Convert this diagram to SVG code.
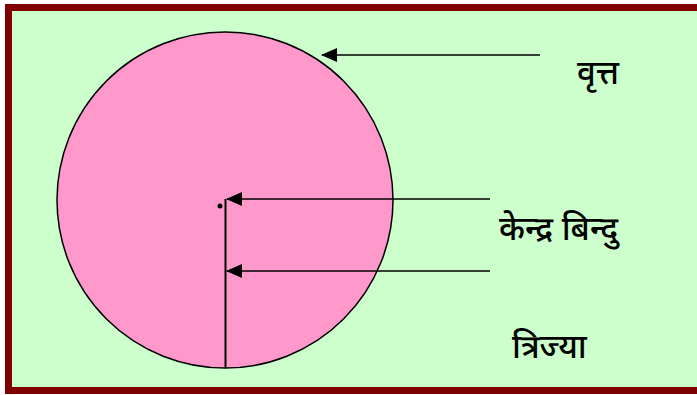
<svg xmlns="http://www.w3.org/2000/svg" width="697" height="395" viewBox="0 0 697 395">
<defs>
<style>
.lbl{font-family:"Noto Sans Devanagari","Noto Sans","DejaVu Sans","Liberation Sans",sans-serif;font-size:33px;font-weight:500;fill:#000}
.conn{stroke:#000;stroke-width:1.5;fill:none}
</style>
<marker id="ah" markerWidth="16" markerHeight="14" refX="15" refY="7" orient="auto" markerUnits="userSpaceOnUse">
<path d="M0,0 L16,7 L0,14 Z" fill="#000"/>
</marker>
</defs>
<rect x="8.5" y="7.5" width="700" height="383" fill="#CCFFCC" stroke="#800000" stroke-width="7"/>
<g id="circle">
<circle cx="225" cy="200" r="168" fill="#FF99CC" stroke="#000" stroke-width="1.5"/>
</g>
<g id="center">
<circle cx="220" cy="206" r="2.5" fill="#000"/>
</g>
<g id="radius">
<line x1="225.5" y1="199" x2="225.5" y2="368" stroke="#000" stroke-width="2"/>
</g>
<g id="connectors">
<line class="conn" x1="540" y1="55" x2="322" y2="55" marker-end="url(#ah)"/>
<line class="conn" x1="490" y1="199" x2="227" y2="199" marker-end="url(#ah)"/>
<line class="conn" x1="490" y1="271" x2="227" y2="271" marker-end="url(#ah)"/>
</g>
<g id="label-vritt"><text class="lbl" x="577" y="84">वृत्त</text></g>
<g id="label-kendra"><text class="lbl" x="499" y="240">केन्द्र बिन्दु</text></g>
<g id="label-trijya"><text class="lbl" x="512" y="358">त्रिज्या</text></g>
</svg>
